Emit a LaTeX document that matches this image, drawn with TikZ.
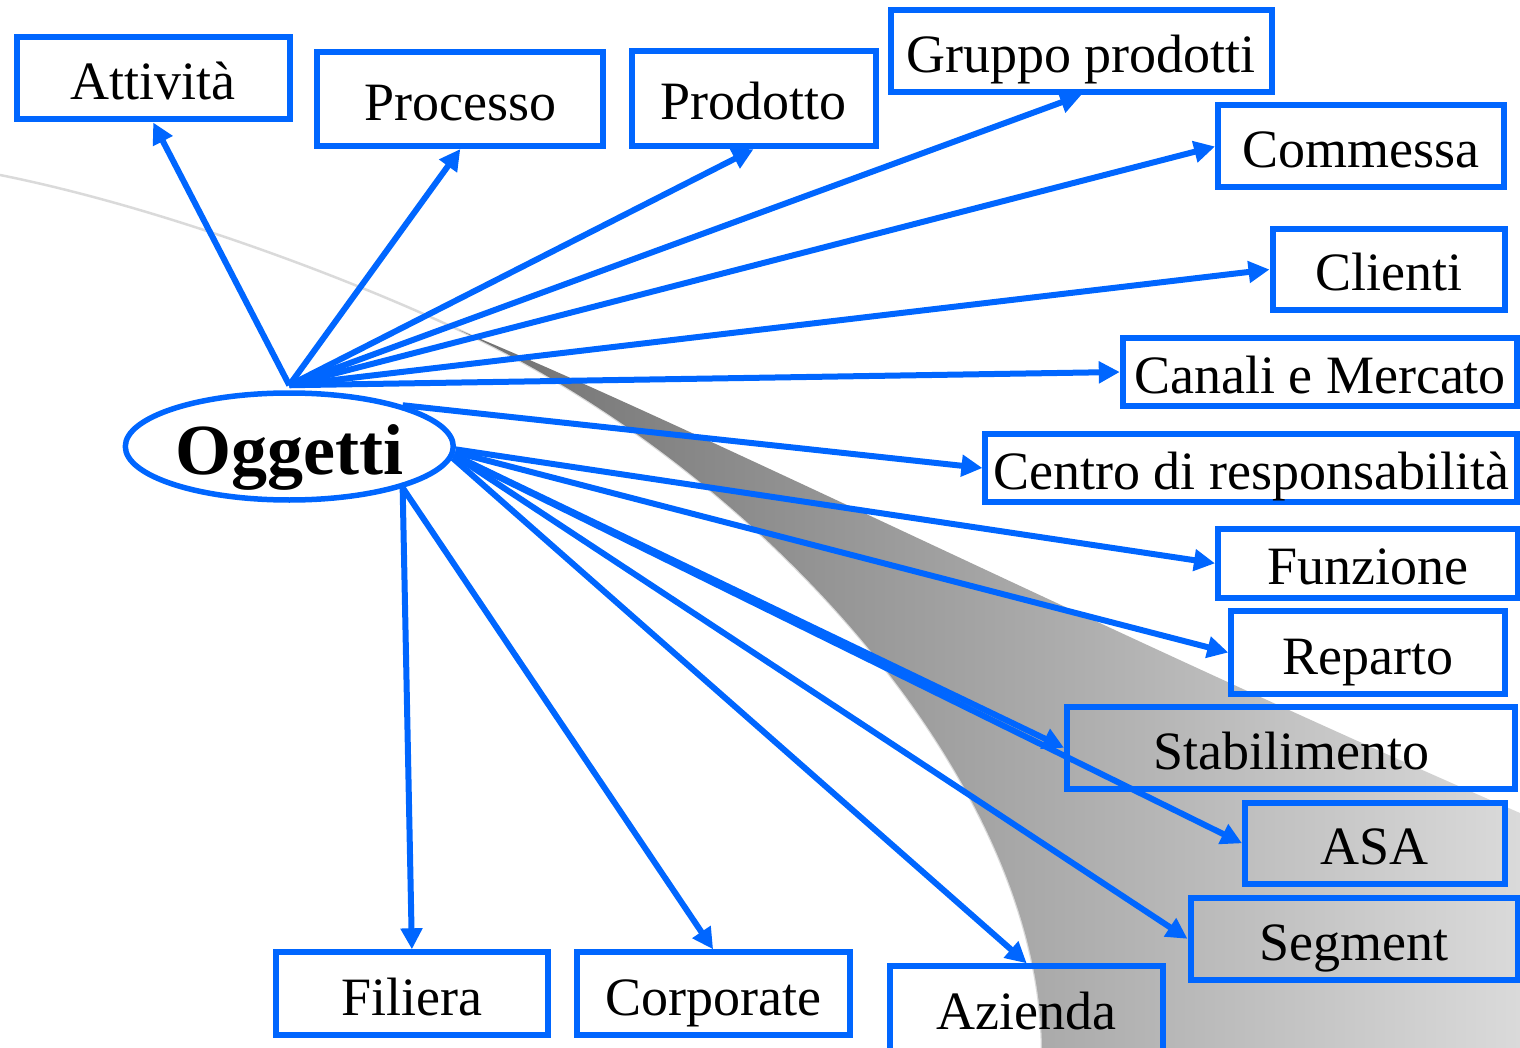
\documentclass[tikz,border=0pt]{standalone}
\usepackage{fontspec}
\setmainfont{Liberation Serif}
\usetikzlibrary{arrows.meta,shapes.geometric}
\definecolor{linkblue}{RGB}{0,102,255}
\definecolor{swooshdark}{RGB}{112,112,112}
\definecolor{swooshlight}{RGB}{218,218,218}
\definecolor{arcgray}{RGB}{218,218,218}

\begin{document}
\begin{tikzpicture}[x=1pt,y=-1pt,
  obj/.style={draw=linkblue, line width=6pt, rectangle, inner sep=0pt,
    text height=43pt, text depth=0pt, font=\fontsize{54}{60}\selectfont},
  link/.style={draw=linkblue, line width=6pt, -{Triangle[length=21pt,width=21pt]}},
  hub/.style={draw=linkblue, fill=white, ellipse, line width=5.5pt, inner sep=0pt,
    minimum width=328pt, minimum height=107pt, text height=55pt, text depth=0pt,
    font=\fontsize{72}{80}\selectfont\bfseries}]

\useasboundingbox (0,0) rectangle (1520,1048);

% background swoosh: thin light arc and gray sweeping band
\draw[arcgray, line width=2.5pt]
  (0,175) .. controls (150,205) and (330,270) .. (459,330)
  .. controls (760,470) and (1040,780) .. (1042,1050);
\shade[left color=swooshdark, right color=swooshlight]
  (459,330) .. controls (690,425) and (1100,630) .. (1520,813)
  -- (1520,1050) -- (1042,1050)
  .. controls (1040,780) and (760,470) .. (459,330)
  -- cycle;

% central node
\node[hub] (ogg) at (289.3,446.5) {Oggetti};

% object boxes
\node[obj, minimum width=272.7pt, minimum height=82pt]   (att) at (153.2,78.5)   {Attività};
\node[obj, minimum width=285.8pt, minimum height=94.5pt] (pro) at (460.3,98.8)   {Processo};
\node[obj, minimum width=244pt,   minimum height=95.4pt] (prd) at (753.5,98.5)   {Prodotto};
\node[obj, minimum width=381pt,   minimum height=82.2pt] (grp) at (1081.2,51)   {Gruppo prodotti};
\node[obj, minimum width=285.5pt, minimum height=82pt]   (com) at (1360.8,146.5) {Commessa};
\node[obj, minimum width=232pt,   minimum height=81.6pt] (cli) at (1388.5,269.5) {Clienti};
\node[obj, minimum width=394.4pt, minimum height=68pt]   (can) at (1320,372)     {Canali e Mercato};
\node[obj, minimum width=531.5pt, minimum height=68.3pt] (cen) at (1251.2,468)   {Centro di responsabilità};
\node[obj, minimum width=300pt,   minimum height=68.7pt] (fun) at (1368,563.3)   {Funzione};
\node[obj, minimum width=274pt,   minimum height=82.4pt] (rep) at (1368.3,652.5) {Reparto};
\node[obj, minimum width=448pt,   minimum height=81.7pt] (sta) at (1291,747.8)   {Stabilimento};
\node[obj, minimum width=259.5pt, minimum height=81.5pt] (asa) at (1374.8,843.3) {ASA};
\node[obj, minimum width=327pt,   minimum height=81.5pt] (seg) at (1354,938.8)   {Segment};
\node[obj, minimum width=272.6pt, minimum height=83pt]   (fil) at (411.9,993.8)  {Filiera};
\node[obj, minimum width=273pt,   minimum height=83pt]   (cor) at (713.1,993.8)  {Corporate};
\node[obj, minimum width=272.6pt, minimum height=88pt, text depth=5pt] (azi) at (1026.7,1010.3) {Azienda};

% connectors from the central node
\coordinate (hubtop) at ([yshift=5pt]ogg.north);
\draw[link] (hubtop) -- (att.south);
\draw[link] (hubtop) -- (pro.south);
\draw[link] (hubtop) -- (prd.south);
\draw[link] (hubtop) -- (grp.south);
\draw[link] (hubtop) -- (com.west);
\draw[link] (hubtop) -- (cli.west);
\draw[link] (hubtop) -- (can.west);
\draw[link] (ogg.20) -- (cen.west);
\draw[link] (ogg.-1) -- (fun.west);
\draw[link] (ogg.-2) -- (rep.west);
\draw[link] (ogg.-3) -- (sta.west);
\draw[link] (ogg.-3) -- (asa.west);
\draw[link] (ogg.-3) -- (seg.west);
\draw[link] (ogg.-4) -- (azi.north);
\draw[link] (ogg.-20) -- (fil.north);
\draw[link] (ogg.-20) -- (cor.north);
\end{tikzpicture}
\end{document}
